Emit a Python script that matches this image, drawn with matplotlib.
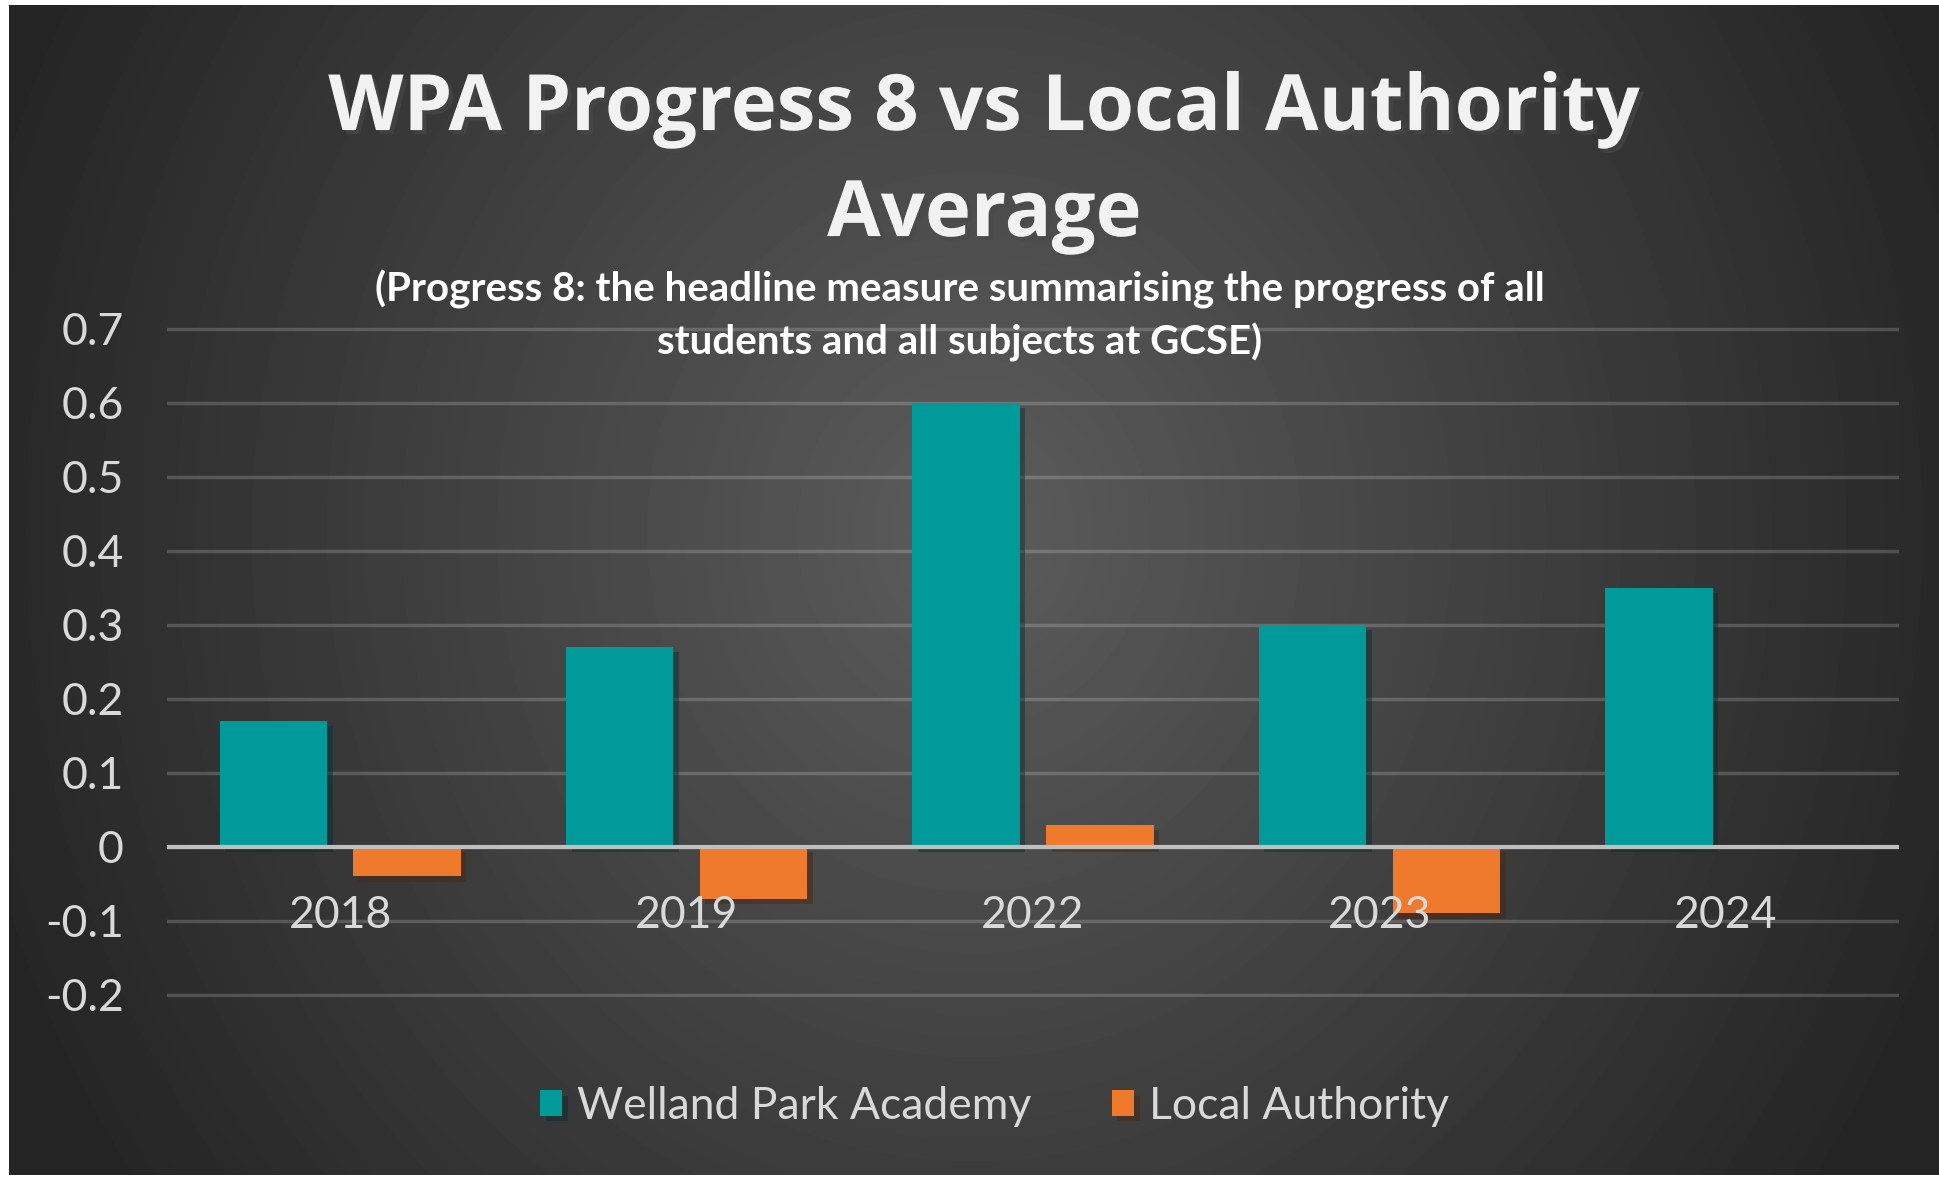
import matplotlib.pyplot as plt
import matplotlib.patheffects as pe
import numpy as np

# data
years = ['2018', '2019', '2022', '2023', '2024']
wpa = [0.17, 0.27, 0.60, 0.30, 0.35]
local_authority = [-0.04, -0.07, 0.03, -0.09, np.nan]

teal = '#009A9A'
orange = '#EF7A2C'
text_grey = '#D9D9D9'

plt.rcParams['font.family'] = ['Lato', 'DejaVu Sans']

fig = plt.figure(figsize=(19.39, 11.78), dpi=100, facecolor='white')

# dark radial background, thin white margin round it
bg = fig.add_axes([9 / 1939, 3 / 1178, 1 - 9 / 1939, 1 - 8 / 1178])
gx, gy = np.meshgrid(np.linspace(0, 1, 400), np.linspace(0, 1, 250))
d = np.sqrt(((gx - 0.5) / 0.55) ** 2 + ((gy - 0.45) / 1.0) ** 2)
shade = (92 - 56 * np.clip(d, 0, 1)) / 255
bg.imshow(shade, cmap='gray', vmin=0, vmax=1, aspect='auto',
          interpolation='bilinear', extent=[0, 1, 1, 0])
bg.axis('off')

ax = fig.add_axes([0.0861, 0.1537, 0.8933, 0.5691])
ax.set_facecolor('none')

x = np.arange(len(years))
w = 0.31
bar_shadow = [pe.SimplePatchShadow(offset=(4, -4), alpha=0.45), pe.Normal()]
b1 = ax.bar(x - 0.193, wpa, w, color=teal, label='Welland Park Academy', zorder=2)
b2 = ax.bar(x + 0.193, local_authority, w, color=orange, label='Local Authority', zorder=2)
for p in list(b1) + list(b2):
    p.set_path_effects(bar_shadow)

ax.axhline(0, color='#BFBFBF', lw=3, zorder=3)

ax.set_xlim(-0.5, len(years) - 0.5)
ax.set_ylim(-0.203, 0.703)
yticks = np.round(np.arange(-0.2, 0.71, 0.1), 1)
ax.set_yticks(yticks)
ax.set_yticklabels([f'{v:g}' for v in yticks])
ax.set_xticks([])
ax.tick_params(axis='y', length=0, pad=31, labelsize=32, labelcolor=text_grey)
ax.grid(axis='y', color='white', alpha=0.18, lw=2.5)
ax.set_axisbelow(True)
for s in ax.spines.values():
    s.set_visible(False)

for i, yr in enumerate(years):
    ax.text(i, -0.093, yr, ha='center', va='center', fontsize=32,
            color=text_grey, zorder=4)

title_shadow = [pe.SimplePatchShadow(offset=(3, -3), alpha=0.6), pe.Normal()]
fig.text(0.5077, 0.862, 'WPA Progress 8 vs Local Authority\nAverage',
         ha='center', va='center', fontsize=56, fontweight='bold',
         family=['Open Sans', 'DejaVu Sans'],
         color='#F2F2F2', linespacing=1.45, path_effects=title_shadow)
fig.text(0.495, 0.7316,
         '(Progress 8: the headline measure summarising the progress of all\n'
         'students and all subjects at GCSE)',
         ha='center', va='center', fontsize=29, fontweight='bold',
         color='white', linespacing=1.45)

leg = fig.legend(handles=[b1, b2], loc='center', bbox_to_anchor=(0.513, 0.061),
                 ncol=2, frameon=False, fontsize=32, labelcolor=text_grey,
                 handlelength=0.5, handleheight=0.5, handletextpad=0.34,
                 columnspacing=1.8)

fig.savefig('out.png', dpi=100, facecolor='white')
